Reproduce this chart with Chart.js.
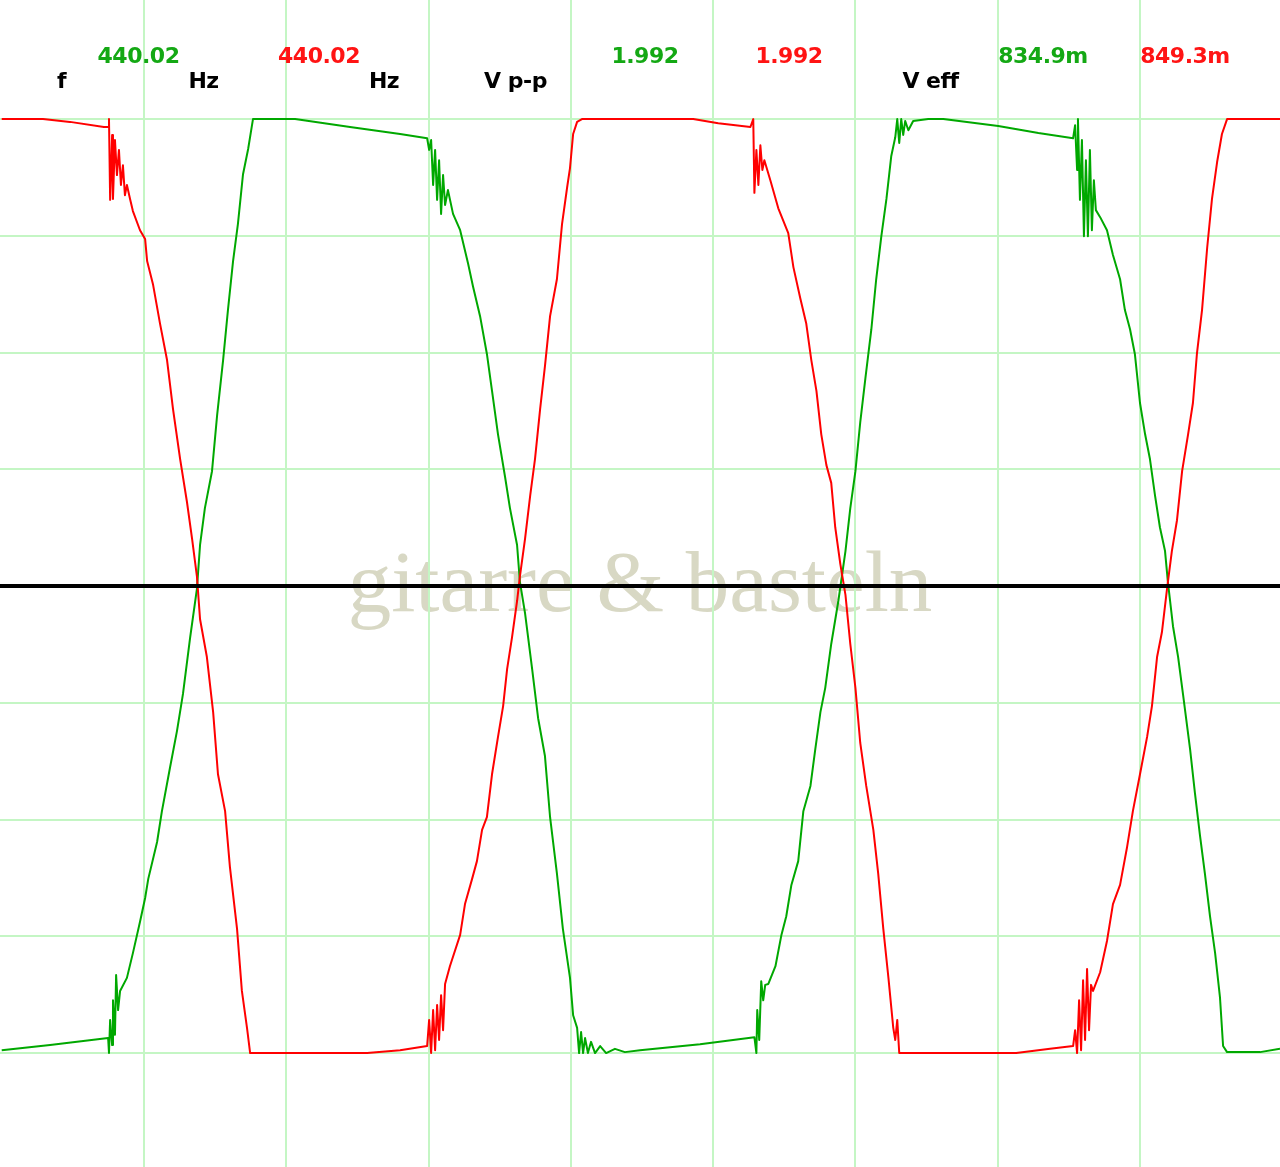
<!DOCTYPE html>
<html>
<head>
<meta charset="utf-8">
<script src="https://cdn.jsdelivr.net/npm/chart.js@4.4.1/dist/chart.umd.min.js"></script>
<style>
  html, body { margin: 0; padding: 0; background: #ffffff; }
  #wrap { position: relative; width: 1280px; height: 1167px; overflow: hidden; background: #ffffff; }
  #wm { position: absolute; left: 640px; top: 538px; transform: translateX(-50%);
        font-family: "Liberation Serif", "DejaVu Serif", serif; font-size: 87px; line-height: 87px;
        color: rgb(216,216,196); white-space: nowrap; z-index: 0; }
  #c { position: absolute; left: 0; top: 0; z-index: 1; }
  .lbl { position: absolute; transform: translateX(-50%); white-space: nowrap; z-index: 2;
         font-family: "DejaVu Sans", Verdana, sans-serif; font-weight: bold; font-size: 22px;
         line-height: 22px; letter-spacing: -0.5px; }
</style>
</head>
<body>
<div id="wrap">
  <div id="wm"></div>
  <canvas id="c" width="1280" height="1167"></canvas>
</div>
<script>
// ---- data: time in ms, voltage in V (0.5 ms/div, 0.25 V/div) ----
const redTime = [
  0, 0.145, 0.240, 0.359, 0.374,
  0.377, 0.381, 0.388, 0.391, 0.398, 0.405, 0.412, 0.419, 0.426, 0.433, 0.440,
  0.451, 0.461, 0.486, 0.504, 0.511, 0.532, 0.556, 0.581, 0.602, 0.627, 0.651, 0.669, 0.686, 0.697, 0.721, 0.743, 0.760, 0.785, 0.802, 0.827, 0.844, 0.862, 0.873,
  1.284, 1.400, 1.495,
  1.502, 1.509, 1.516, 1.523, 1.530, 1.537, 1.544, 1.551, 1.558,
  1.575, 1.611, 1.628, 1.653, 1.670, 1.688, 1.705, 1.723, 1.744, 1.762, 1.776, 1.793, 1.811, 1.821, 1.839, 1.857, 1.874, 1.892, 1.909, 1.927, 1.951, 1.969, 1.987, 1.997, 2.008, 2.022, 2.039,
  2.430, 2.518, 2.631,
  2.641, 2.645, 2.652, 2.659, 2.666, 2.673, 2.680,
  2.701, 2.729, 2.764, 2.782, 2.806, 2.827, 2.845, 2.863, 2.880, 2.898, 2.915, 2.929, 2.947, 2.965, 2.982, 3.000, 3.017, 3.038, 3.063, 3.080, 3.098, 3.116, 3.133, 3.140, 3.147, 3.154,
  3.565, 3.684, 3.765,
  3.772, 3.779, 3.786, 3.793, 3.800, 3.807, 3.814, 3.821, 3.828,
  3.835, 3.860, 3.884, 3.905, 3.930, 3.954, 3.975, 4.000, 4.025, 4.042, 4.060, 4.077, 4.095, 4.112, 4.130, 4.148, 4.169, 4.186, 4.200, 4.218, 4.236, 4.253, 4.271, 4.288, 4.306, 4.492
];
const redVolt = [
  1.000, 1.000, 0.994, 0.983, 0.983,
  1.000, 0.827, 0.966, 0.829, 0.955, 0.880, 0.934, 0.859, 0.901, 0.837, 0.859,
  0.829, 0.803, 0.762, 0.743, 0.696, 0.645, 0.563, 0.484, 0.379, 0.272, 0.180, 0.101, 0.021, -0.071, -0.152, -0.270, -0.403, -0.482, -0.602, -0.734, -0.867, -0.946, -1.000,
  -1.000, -0.994, -0.985,
  -0.929, -1.000, -0.908, -0.994, -0.897, -0.972, -0.876, -0.951, -0.852,
  -0.814, -0.747, -0.681, -0.627, -0.589, -0.522, -0.495, -0.403, -0.323, -0.257, -0.178, -0.111, -0.032, 0.021, 0.101, 0.193, 0.272, 0.379, 0.471, 0.578, 0.657, 0.775, 0.854, 0.895, 0.968, 0.994, 1.000,
  1.000, 0.991, 0.983,
  1.000, 0.842, 0.934, 0.859, 0.944, 0.891, 0.912,
  0.869, 0.809, 0.756, 0.683, 0.617, 0.563, 0.484, 0.418, 0.325, 0.259, 0.221, 0.126, 0.047, -0.019, -0.124, -0.218, -0.336, -0.428, -0.522, -0.615, -0.734, -0.839, -0.946, -0.972, -0.929, -1.000,
  -1.000, -0.991, -0.985,
  -0.951, -1.000, -0.887, -0.994, -0.844, -0.972, -0.820, -0.951, -0.854,
  -0.867, -0.827, -0.760, -0.681, -0.640, -0.561, -0.482, -0.403, -0.323, -0.257, -0.152, -0.099, -0.006, 0.075, 0.141, 0.246, 0.325, 0.392, 0.497, 0.591, 0.724, 0.829, 0.908, 0.968, 1.000, 1.000
];
const greenTime = [
  0, 0.170, 0.374,
  0.377, 0.381, 0.388, 0.391, 0.398, 0.402, 0.409,
  0.416, 0.440, 0.461, 0.486, 0.504, 0.515, 0.546, 0.563, 0.591, 0.616, 0.637, 0.662, 0.686, 0.697, 0.714, 0.739, 0.757, 0.778, 0.795, 0.813, 0.830, 0.848, 0.866, 0.883,
  1.031, 1.224, 1.400, 1.495,
  1.502, 1.509, 1.516, 1.523, 1.530, 1.537, 1.544, 1.551, 1.558, 1.568,
  1.586, 1.611, 1.639, 1.656, 1.681, 1.705, 1.723, 1.744, 1.769, 1.786, 1.811, 1.821, 1.839, 1.864, 1.885, 1.909, 1.927, 1.951, 1.972, 1.997, 2.008, 2.022,
  2.029, 2.036, 2.043, 2.050, 2.060, 2.071, 2.085, 2.103, 2.124, 2.155, 2.190,
  2.243, 2.454, 2.645,
  2.652, 2.655, 2.662, 2.669, 2.676, 2.683,
  2.694, 2.719, 2.740, 2.757, 2.775, 2.799, 2.817, 2.842, 2.859, 2.877, 2.894, 2.915, 2.940, 2.965, 2.982, 3.000, 3.017, 3.035, 3.056, 3.073, 3.091, 3.109, 3.126, 3.140, 3.147,
  3.154, 3.161, 3.168, 3.175, 3.186, 3.203, 3.256, 3.309,
  3.502, 3.643, 3.765,
  3.772, 3.779, 3.782, 3.789, 3.796, 3.803, 3.810, 3.817, 3.824, 3.831, 3.838, 3.845,
  3.860, 3.884, 3.905, 3.930, 3.947, 3.965, 3.982, 4.000, 4.018, 4.035, 4.053, 4.070, 4.088, 4.098, 4.116, 4.134, 4.151, 4.176, 4.193, 4.211, 4.228, 4.246, 4.264, 4.281, 4.292, 4.306, 4.422, 4.492
];
const greenVolt = [
  -0.994, -0.983, -0.968,
  -1.000, -0.929, -0.983, -0.887, -0.961, -0.833, -0.908,
  -0.867, -0.839, -0.786, -0.719, -0.668, -0.627, -0.548, -0.482, -0.390, -0.310, -0.231, -0.111, -0.006, 0.088, 0.167, 0.246, 0.366, 0.484, 0.591, 0.696, 0.775, 0.882, 0.936, 1.000,
  1.000, 0.983, 0.968, 0.959,
  0.934, 0.955, 0.859, 0.934, 0.827, 0.912, 0.797, 0.880, 0.816, 0.848,
  0.797, 0.762, 0.690, 0.642, 0.578, 0.497, 0.418, 0.325, 0.233, 0.167, 0.088, 0.009, -0.058, -0.178, -0.283, -0.364, -0.495, -0.615, -0.734, -0.839, -0.919, -0.946,
  -1.000, -0.955, -1.000, -0.968, -1.000, -0.976, -1.000, -0.985, -1.000, -0.991, -0.998,
  -0.994, -0.981, -0.966,
  -1.000, -0.908, -0.972, -0.846, -0.887, -0.854,
  -0.852, -0.814, -0.747, -0.707, -0.640, -0.589, -0.482, -0.428, -0.349, -0.270, -0.218, -0.124, -0.032, 0.075, 0.167, 0.246, 0.351, 0.445, 0.550, 0.657, 0.749, 0.829, 0.921, 0.961, 1.000,
  0.949, 1.000, 0.966, 0.996, 0.976, 0.996, 1.000, 1.000,
  0.985, 0.970, 0.959,
  0.987, 0.891, 1.000, 0.827, 0.955, 0.749, 0.912, 0.749, 0.934, 0.762, 0.869, 0.805,
  0.790, 0.762, 0.709, 0.657, 0.591, 0.550, 0.497, 0.392, 0.325, 0.272, 0.193, 0.126, 0.075, 0.009, -0.086, -0.152, -0.231, -0.349, -0.443, -0.535, -0.615, -0.707, -0.786, -0.880, -0.985, -0.998, -0.998, -0.991
];
// grid tick values (divisions)
const timeTicks = [0.5, 1.0, 1.5, 2.0, 2.5, 3.0, 3.5, 4.0];
const voltTicks = [-1.0, -0.75, -0.5, -0.25, 0, 0.25, 0.5, 0.75, 1.0];
// readout texts
const readoutLabels = ['f', 'Hz', 'Hz', 'V p-p', 'V eff'];
const greenReadings = ['440.02', '1.992', '834.9m'];
const redReadings = ['440.02', '1.992', '849.3m'];
const watermarkText = 'gitarre & basteln';

// ---- layout / styling ----
const RED = '#ff0000';
const GREEN = '#00a800';
const TEXT_GREEN = '#14a814';
const TEXT_RED = '#ff1414';
const GRID = '#c4f6c4';

document.getElementById('wm').textContent = watermarkText;

const wrap = document.getElementById('wrap');
function addLabel(text, cx, top, color) {
  const d = document.createElement('div');
  d.className = 'lbl';
  d.textContent = text;
  d.style.left = cx + 'px';
  d.style.top = top + 'px';
  d.style.color = color;
  wrap.appendChild(d);
}
const labelX = [61.5, 203.5, 384, 515.5, 930.5];
readoutLabels.forEach((t, i) => addLabel(t, labelX[i], 69.5, '#000000'));
const greenX = [138.5, 645, 1043];
const redX = [319, 789, 1185];
greenReadings.forEach((t, i) => addLabel(t, greenX[i], 44.5, TEXT_GREEN));
redReadings.forEach((t, i) => addLabel(t, redX[i], 44.5, TEXT_RED));

const zeroLine = {
  id: 'zeroLine',
  afterDatasetsDraw(chart) {
    const { ctx, chartArea, scales } = chart;
    const y = scales.y.getPixelForValue(0);
    ctx.save();
    ctx.strokeStyle = '#000000';
    ctx.lineWidth = 4;
    ctx.beginPath();
    ctx.moveTo(chartArea.left, y);
    ctx.lineTo(chartArea.right, y);
    ctx.stroke();
    ctx.restore();
  }
};

new Chart(document.getElementById('c'), {
  type: 'line',
  data: {
    datasets: [
      {
        label: 'CH2',
        data: redTime.map((t, i) => ({ x: t, y: redVolt[i] })),
        borderColor: RED, borderWidth: 2, pointRadius: 0, tension: 0,
        borderJoinStyle: 'round', fill: false
      },
      {
        label: 'CH1',
        data: greenTime.map((t, i) => ({ x: t, y: greenVolt[i] })),
        borderColor: GREEN, borderWidth: 2, pointRadius: 0, tension: 0,
        borderJoinStyle: 'round', fill: false
      }
    ]
  },
  options: {
    responsive: false,
    animation: false,
    devicePixelRatio: 1,
    layout: { padding: 0 },
    plugins: { legend: { display: false }, tooltip: { enabled: false }, title: { display: false } },
    scales: {
      x: {
        type: 'linear', min: -0.006, max: 4.492,
        afterBuildTicks: (s) => { s.ticks = timeTicks.map(v => ({ value: v })); },
        ticks: { display: false },
        border: { display: false },
        grid: { color: GRID, lineWidth: 2, drawTicks: false }
      },
      y: {
        type: 'linear', min: -1.244, max: 1.255,
        afterBuildTicks: (s) => { s.ticks = voltTicks.map(v => ({ value: v })); },
        ticks: { display: false },
        border: { display: false },
        grid: { color: GRID, lineWidth: 2, drawTicks: false }
      }
    }
  },
  plugins: [zeroLine]
});
</script>
</body>
</html>
